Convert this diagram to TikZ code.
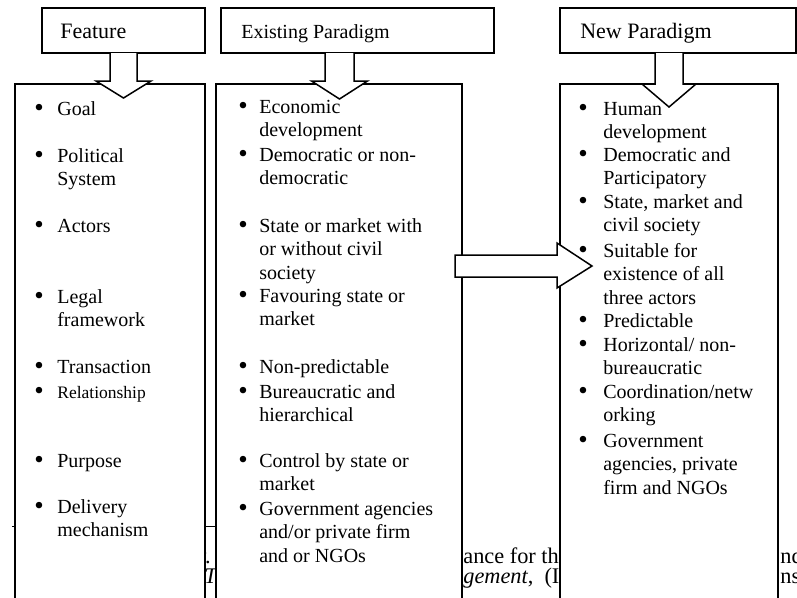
\documentclass[tikz,border=0pt]{standalone}
\usepackage{fontspec}
\setmainfont{Liberation Serif}
\tikzset{
  frame/.style={draw=black, line width=0.9pt, fill=white},
  blk/.style={draw=black, line width=0.9pt, fill=white, line join=miter},
  hd/.style={anchor=base west, inner sep=0pt, font=\fontsize{13.2}{15}\selectfont},
  itm/.style={anchor=north west, inner sep=0pt, align=left, font=\fontsize{12}{14.1}\selectfont},
  dot/.style={anchor=north west, inner sep=0pt, font=\fontsize{12}{14.1}\selectfont},
  bg/.style={anchor=base west, inner sep=0pt, font=\fontsize{13.4}{15}\selectfont},
}
% first baseline sits 0.7\baselineskip (16.45 units) below the node top
\newcommand{\topof}[1]{#1-16.45}
\newcommand{\bul}{\strut\raisebox{-0.4pt}{\scalebox{1.35}{\textbullet}}}

\begin{document}
\begin{tikzpicture}[x=0.6pt, y=-0.6pt]
  \useasboundingbox (0,0) rectangle (797,597);
  \clip (0,0) rectangle (797,597);

  % page text behind the figure
  \draw[line width=0.6pt] (12,526) -- (216,526);
  \node[bg, anchor=base east] (bg1) at (211,563) {ty.};
  \node[bg] (bg2) at (463,563) {ance for the};
  \node[bg] (bg3) at (780,563) {nd};
  \node[bg] (bg4) at (204,583) {\textit{Th}};
  \node[bg] (bg5) at (463,583) {\textit{gement},\ \ (I};
  \node[bg] (bg6) at (780,583) {ns};

  % columns
  \draw[frame] (15,84) rectangle (205,620);
  \draw[frame] (216,84) rectangle (462,620);
  \draw[frame] (560,84) rectangle (778,620);

  % headings
  \draw[frame] (42,8) rectangle (205,53);
  \draw[frame] (221,8) rectangle (494,53);
  \draw[frame] (560,8) rectangle (796,53);
  \node[hd] (feat) at (60,38) {Feature};
  \node[hd, font=\fontsize{12}{14}\selectfont] (exist) at (241,38) {Existing Paradigm};
  \node[hd] (new) at (580,38) {New Paradigm};

  % block arrows
  \foreach \xm/\hs/\hh/\yb/\yt in {123.5/13.5/27.5/81/98, 339.5/14.5/28/81/99, 669/14/27/84/107}
    \draw[blk] ({\xm-\hs},53) -- ({\xm-\hs},\yb) -- ({\xm-\hh},\yb) -- (\xm,\yt)
      -- ({\xm+\hh},\yb) -- ({\xm+\hs},\yb) -- ({\xm+\hs},53);
  \draw[blk] (455,255) -- (557,255) -- (557,243) -- (592,266) -- (557,288) -- (557,277) -- (455,277) -- cycle;

  % feature list
  \foreach \yy/\txt in {115/Goal, 162/{Political\\System}, 232/Actors, 303/{Legal\\framework},
      373/Transaction, 467/Purpose, 513/{Delivery\\mechanism}} {
    \node[dot] (fb\yy) at (34,{\topof{\yy}}) {\bul};
    \node[itm] (ft\yy) at (57,{\topof{\yy}}) {\strut\txt};
  }
  \node[dot] (fb398) at (34,{\topof{398}}) {\bul};
  \node[itm, font=\fontsize{10.5}{14.1}\selectfont] (ft398) at (57,{\topof{398}}) {\strut Relationship};

  % existing paradigm
  \foreach \yy/\txt in {113/{Economic\\development}, 161/{Democratic or non-\\democratic},
      232/{State or market with\\or without civil\\society}, 302/{Favouring state or\\market},
      373/Non-predictable, 398/{Bureaucratic and\\hierarchical}, 467/{Control by state or\\market},
      515/{Government agencies\\and/or private firm\\and or NGOs}} {
    \node[dot] (eb\yy) at (238,{\topof{\yy}}) {\bul};
    \node[itm] (et\yy) at (259,{\topof{\yy}}) {\strut\txt};
  }

  % new paradigm
  \foreach \yy/\txt in {115/{Human\\development}, 161/{Democratic and\\Participatory},
      208/{State, market and\\civil society}, 257/{Suitable for\\existence of all\\three actors},
      327/Predictable, 351/{Horizontal/ non-\\bureaucratic}, 398/{Coordination/netw\\orking},
      447/{Government\\agencies, private\\firm and NGOs}} {
    \node[dot] (nb\yy) at (578,{\topof{\yy}}) {\bul};
    \node[itm] (nt\yy) at (603,{\topof{\yy}}) {\strut\txt};
  }
\end{tikzpicture}
\end{document}
